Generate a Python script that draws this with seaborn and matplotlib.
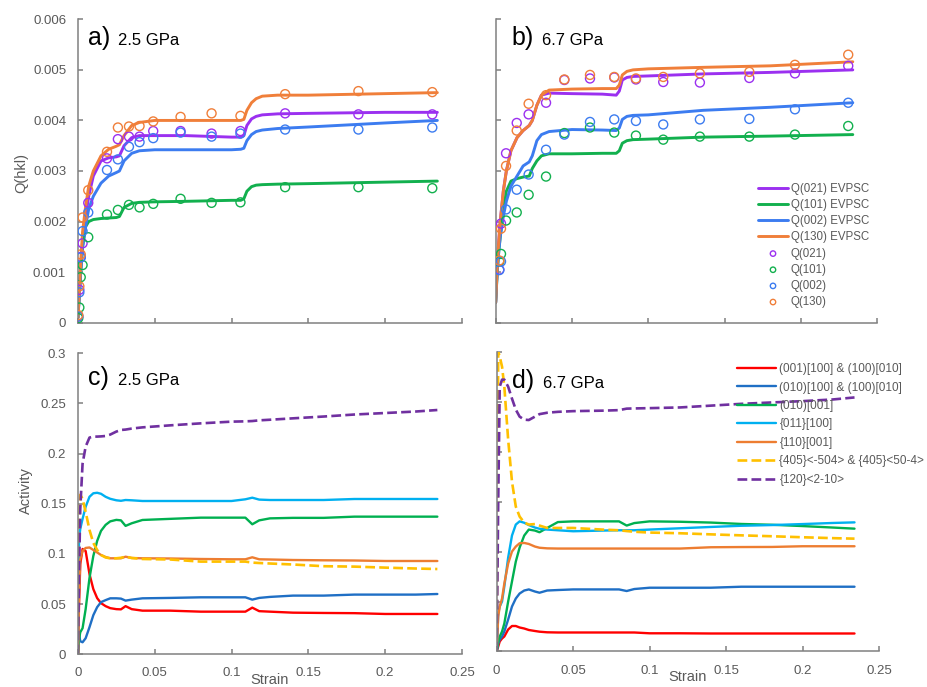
import matplotlib
matplotlib.use("Agg")
import matplotlib.pyplot as plt
import seaborn as sns

# ---------------- data ----------------
# Panel a (2.5 GPa): EVPSC model curves
strain_a = [0, 0.001, 0.002, 0.003, 0.005, 0.007, 0.01, 0.015, 0.02, 0.025, 0.027,
            0.03, 0.035, 0.04, 0.05, 0.07, 0.1, 0.106, 0.108, 0.11, 0.113, 0.116,
            0.12, 0.13, 0.15, 0.2, 0.234]
q021_a = [0.0001, 0.0007, 0.0012, 0.0016, 0.0021, 0.0025, 0.0029, 0.0032, 0.00326,
          0.00328, 0.0033, 0.0035, 0.00366, 0.0037, 0.0037, 0.0037, 0.00367, 0.00367,
          0.0037, 0.0039, 0.00403, 0.00408, 0.00411, 0.00413, 0.00414, 0.00416, 0.00416]
q101_a = [0.0001, 0.0006, 0.0011, 0.0015, 0.0019, 0.002, 0.00204, 0.00206, 0.00207,
          0.00208, 0.0021, 0.00228, 0.00236, 0.00238, 0.00239, 0.0024, 0.00242, 0.00242,
          0.00245, 0.0026, 0.00269, 0.00272, 0.00273, 0.00274, 0.00275, 0.00278, 0.0028]
q002_a = [0.0001, 0.0006, 0.0011, 0.0015, 0.0019, 0.00225, 0.0025, 0.00276, 0.0029,
          0.00297, 0.003, 0.0032, 0.00335, 0.0034, 0.00342, 0.00342, 0.00342, 0.00343,
          0.00345, 0.0036, 0.00372, 0.00378, 0.00381, 0.00384, 0.00387, 0.00395, 0.004]
q130_a = [0.0001, 0.0007, 0.0013, 0.0018, 0.0023, 0.0027, 0.003, 0.0033, 0.00343,
          0.00349, 0.00352, 0.0037, 0.0039, 0.00396, 0.004, 0.004, 0.004, 0.004,
          0.00402, 0.0042, 0.00435, 0.00443, 0.00448, 0.0045, 0.0045, 0.00453, 0.00455]

# Panel a: measured
strain_a_obs = [0.0002, 0.0009, 0.0018, 0.003, 0.0067, 0.0189, 0.026, 0.0332, 0.0401,
                0.049, 0.0668, 0.087, 0.1058, 0.1349, 0.1826, 0.2307]
q021_a_obs = [0.00012, 0.00065, 0.0013, 0.00157, 0.00237, 0.00325, 0.00363, 0.00368,
              0.00368, 0.00379, 0.00379, 0.00374, 0.00379, 0.00414, 0.00412, 0.00412]
q101_a_obs = [0.00009, 0.0003, 0.0009, 0.00114, 0.00169, 0.00214, 0.00223, 0.00233,
              0.00228, 0.00235, 0.00245, 0.00237, 0.00238, 0.00268, 0.00268, 0.00266]
q002_a_obs = [0.00013, 0.0006, 0.00129, 0.00181, 0.00218, 0.00302, 0.00323, 0.00348,
              0.00357, 0.00365, 0.00376, 0.00368, 0.00374, 0.00382, 0.00382, 0.00386]
q130_a_obs = [0.00015, 0.00072, 0.00135, 0.00208, 0.00262, 0.00338, 0.00386, 0.00388,
              0.00389, 0.00398, 0.00407, 0.00414, 0.00409, 0.00452, 0.00458, 0.00456]

# Panel b (6.7 GPa): EVPSC model curves
strain_b = [0, 0.001, 0.002, 0.003, 0.005, 0.007, 0.01, 0.014, 0.018, 0.022, 0.024,
            0.027, 0.03, 0.035, 0.05, 0.07, 0.079, 0.081, 0.083, 0.086, 0.09, 0.1,
            0.136, 0.18, 0.234]
q021_b = [0.0004, 0.0011, 0.0016, 0.002, 0.0026, 0.003, 0.0034, 0.00366, 0.0038,
          0.0039, 0.004, 0.0043, 0.0045, 0.00454, 0.00453, 0.00452, 0.0045, 0.00458,
          0.0048, 0.00485, 0.00487, 0.00488, 0.00492, 0.00495, 0.005]
q101_b = [0.0004, 0.001, 0.0014, 0.0017, 0.0022, 0.0026, 0.0028, 0.00285, 0.00288,
          0.0029, 0.00305, 0.0032, 0.0033, 0.00334, 0.00334, 0.00335, 0.00335, 0.0034,
          0.00355, 0.0036, 0.00362, 0.00363, 0.00367, 0.00369, 0.00372]
q002_b = [0.0004, 0.001, 0.0014, 0.0017, 0.0021, 0.0024, 0.0027, 0.0029, 0.0031,
          0.00318, 0.0033, 0.0036, 0.00372, 0.00378, 0.00382, 0.00381, 0.0038, 0.00385,
          0.00402, 0.00408, 0.0041, 0.00411, 0.0042, 0.00426, 0.00435]
q130_b = [0.0004, 0.0011, 0.0016, 0.002, 0.0026, 0.003, 0.0034, 0.00366, 0.0038,
          0.0039, 0.004, 0.0043, 0.0045, 0.0046, 0.00462, 0.00463, 0.00463, 0.0047,
          0.0049, 0.00497, 0.005, 0.00502, 0.00505, 0.00508, 0.00516]

# Panel b: measured
strain_b_obs = [0.0024, 0.0035, 0.0068, 0.0138, 0.0216, 0.033, 0.045, 0.0618, 0.0777,
                0.0919, 0.1098, 0.1338, 0.1662, 0.1961, 0.231]
q021_b_obs = [0.00105, 0.00196, 0.00335, 0.00395, 0.00412, 0.00435, 0.0048, 0.00483,
              0.00485, 0.00481, 0.00476, 0.00475, 0.00484, 0.00493, 0.00508]
q101_b_obs = [0.00121, 0.00136, 0.00202, 0.00218, 0.00253, 0.00289, 0.00375, 0.00386,
              0.00376, 0.0037, 0.00362, 0.00368, 0.00368, 0.00372, 0.00389]
q002_b_obs = [0.00104, 0.00121, 0.00224, 0.00263, 0.00293, 0.00342, 0.00372, 0.00397,
              0.00402, 0.00399, 0.00392, 0.00402, 0.00403, 0.00422, 0.00435]
q130_b_obs = [0.00123, 0.00186, 0.0031, 0.0038, 0.00433, 0.0045, 0.00481, 0.0049,
              0.00486, 0.00483, 0.00486, 0.00493, 0.00496, 0.0051, 0.0053]

# Panel c (2.5 GPa): slip system activities
strain_c = [0, 0.0007, 0.0015, 0.003, 0.005, 0.0075, 0.01, 0.0125, 0.015, 0.018, 0.021,
            0.025, 0.028, 0.031, 0.035, 0.042, 0.06, 0.08, 0.1, 0.109, 0.1135, 0.118,
            0.125, 0.14, 0.16, 0.18, 0.2, 0.22, 0.234]
act_001_c = [0, 0.05, 0.09, 0.105, 0.103, 0.08, 0.065, 0.056, 0.051, 0.048, 0.046, 0.045,
             0.0448, 0.048, 0.045, 0.0435, 0.0435, 0.0425, 0.0425, 0.0425, 0.0465, 0.043,
             0.0425, 0.0415, 0.0412, 0.041, 0.0402, 0.0402, 0.0402]
act_010_100_c = [0, 0.02, 0.013, 0.012, 0.016, 0.027, 0.039, 0.047, 0.052, 0.054, 0.0558,
                 0.0558, 0.0555, 0.0535, 0.0545, 0.0558, 0.0562, 0.0568, 0.0568, 0.0568,
                 0.0545, 0.0562, 0.0572, 0.0585, 0.0585, 0.0595, 0.0595, 0.0595, 0.0601]
act_010_001_c = [0, 0.015, 0.022, 0.026, 0.045, 0.076, 0.098, 0.113, 0.123, 0.129, 0.1325,
                 0.134, 0.1335, 0.128, 0.1306, 0.1339, 0.135, 0.1362, 0.1362, 0.1362,
                 0.1296, 0.1335, 0.1355, 0.136, 0.136, 0.1372, 0.1372, 0.1372, 0.1372]
act_011_c = [0, 0.115, 0.125, 0.135, 0.147, 0.157, 0.1605, 0.161, 0.16, 0.157, 0.155,
             0.1535, 0.153, 0.1538, 0.1535, 0.1528, 0.1528, 0.1528, 0.1528, 0.1545, 0.1561,
             0.1542, 0.1538, 0.1538, 0.1538, 0.1548, 0.1548, 0.1548, 0.1548]
act_110_c = [0, 0.06, 0.095, 0.103, 0.106, 0.1065, 0.104, 0.1015, 0.099, 0.097, 0.0957,
             0.0957, 0.0957, 0.0973, 0.096, 0.0957, 0.0955, 0.095, 0.0947, 0.0947, 0.0967,
             0.0947, 0.0945, 0.094, 0.0937, 0.0935, 0.093, 0.093, 0.093]
act_405_c = [0, 0.13, 0.159, 0.155, 0.142, 0.124, 0.111, 0.104, 0.099, 0.0965, 0.0957,
             0.0957, 0.0962, 0.0973, 0.096, 0.095, 0.0945, 0.0924, 0.0924, 0.0924, 0.0914,
             0.091, 0.0905, 0.0895, 0.0878, 0.0874, 0.0864, 0.0855, 0.085]
act_120_c = [0, 0.08, 0.145, 0.19, 0.207, 0.216, 0.217, 0.217, 0.2172, 0.2176, 0.219,
             0.222, 0.2236, 0.224, 0.225, 0.2262, 0.2282, 0.2302, 0.2319, 0.2322, 0.2325,
             0.2332, 0.2338, 0.2352, 0.237, 0.239, 0.2405, 0.242, 0.2435]

# Panel d (6.7 GPa): slip system activities
strain_d = [0, 0.001, 0.002, 0.0035, 0.005, 0.0075, 0.01, 0.0125, 0.015, 0.018, 0.021,
            0.025, 0.028, 0.033, 0.04, 0.05, 0.07, 0.08, 0.085, 0.09, 0.1, 0.12, 0.14,
            0.16, 0.18, 0.2, 0.22, 0.234]
act_001_d = [0, 0.005, 0.01, 0.013, 0.015, 0.022, 0.0255, 0.0255, 0.024, 0.023, 0.0215,
             0.0205, 0.0198, 0.0192, 0.019, 0.019, 0.019, 0.019, 0.019, 0.019, 0.0182,
             0.0182, 0.018, 0.018, 0.018, 0.018, 0.018, 0.018]
act_010_100_d = [0, 0.008, 0.012, 0.015, 0.02, 0.032, 0.045, 0.053, 0.058, 0.061, 0.0621,
                 0.06, 0.0588, 0.061, 0.0615, 0.0621, 0.0621, 0.0621, 0.0605, 0.0625,
                 0.0638, 0.0638, 0.0638, 0.0648, 0.0648, 0.0648, 0.0648, 0.0648]
act_010_001_d = [0, 0.01, 0.015, 0.02, 0.028, 0.05, 0.07, 0.09, 0.104, 0.116, 0.122,
                 0.121, 0.1193, 0.1236, 0.1295, 0.1302, 0.1302, 0.1302, 0.126, 0.1285,
                 0.1302, 0.1298, 0.129, 0.1276, 0.1268, 0.1255, 0.124, 0.1229]
act_011_d = [0, 0.038, 0.045, 0.05, 0.065, 0.094, 0.116, 0.127, 0.1302, 0.1288, 0.1265,
             0.124, 0.1228, 0.122, 0.1213, 0.1203, 0.121, 0.1213, 0.1213, 0.1213, 0.122,
             0.1233, 0.1246, 0.1258, 0.1265, 0.1275, 0.1286, 0.1292]
act_110_d = [0, 0.035, 0.045, 0.053, 0.068, 0.088, 0.1, 0.105, 0.1083, 0.1086, 0.1076,
             0.105, 0.1038, 0.1032, 0.103, 0.103, 0.103, 0.103, 0.103, 0.103, 0.103, 0.103,
             0.1043, 0.1045, 0.1046, 0.1053, 0.1053, 0.1053]
act_405_d = [0, 0.3, 0.295, 0.285, 0.265, 0.212, 0.17, 0.145, 0.135, 0.129, 0.127, 0.1275,
             0.126, 0.1236, 0.1236, 0.1236, 0.1219, 0.1213, 0.1205, 0.1198, 0.119, 0.1183,
             0.1172, 0.1162, 0.1153, 0.1143, 0.1134, 0.1129]
act_120_d = [0, 0.15, 0.265, 0.272, 0.272, 0.265, 0.253, 0.242, 0.235, 0.232, 0.2316,
             0.235, 0.2375, 0.2389, 0.2398, 0.2405, 0.241, 0.2415, 0.243, 0.2432, 0.2435,
             0.2442, 0.246, 0.2478, 0.2492, 0.2505, 0.2522, 0.2542]

q_names = ["Q(021)", "Q(101)", "Q(002)", "Q(130)"]
q_colors = ["#9b30f0", "#12b04e", "#3c7cf0", "#f07f3a"]

slip_names = ["(001)[100] & (100)[010]", "(010)[100] & (100)[010]", "(010)[001]",
              "{011}[100]", "{110}[001]", "{405}<-504> & {405}<50-4>", "{120}<2-10>"]
slip_colors = ["#ff0000", "#1f6fc5", "#00b050", "#00b0f0", "#ed7d31", "#ffc000", "#7030a0"]
slip_dashed = [False, False, False, False, False, True, True]

x_ticks = [0, 0.05, 0.1, 0.15, 0.2, 0.25]
x_ticklabels = ["0", "0.05", "0.1", "0.15", "0.2", "0.25"]
q_ticks = [0, 0.001, 0.002, 0.003, 0.004, 0.005, 0.006]
q_ticklabels = ["0", "0.001", "0.002", "0.003", "0.004", "0.005", "0.006"]
act_ticks = [0, 0.05, 0.1, 0.15, 0.2, 0.25, 0.3]
act_ticklabels = ["0", "0.05", "0.1", "0.15", "0.2", "0.25", "0.3"]

# ---------------- style ----------------
sns.set_style("ticks")
plt.rcParams["font.family"] = ["Liberation Sans", "DejaVu Sans"]

GRAY = "#808080"
TXT = "#595959"

fig = plt.figure(figsize=(9.27, 6.87), dpi=100)
ax_a = fig.add_axes([0.0841, 0.5303, 0.4142, 0.4416])
ax_b = fig.add_axes([0.5347, 0.5303, 0.4116, 0.4416])
ax_c = fig.add_axes([0.0841, 0.0476, 0.4142, 0.4381])
ax_d = fig.add_axes([0.5358, 0.0517, 0.4124, 0.4364])


def style_axes(ax, yticks, yticklabels, show_x, show_y):
    for s in ["top", "right"]:
        ax.spines[s].set_visible(False)
    for s in ["left", "bottom"]:
        ax.spines[s].set_color(GRAY)
        ax.spines[s].set_linewidth(1.1)
    ax.set_xlim(0, 0.25)
    ax.set_ylim(yticks[0], yticks[-1])
    ax.set_xticks(x_ticks)
    ax.set_xticklabels(x_ticklabels)
    ax.set_yticks(yticks)
    ax.set_yticklabels(yticklabels)
    ax.tick_params(direction="in", length=3.5, width=1.1, color=GRAY,
                   labelcolor=TXT, labelsize=9.5)
    ax.tick_params(axis="x", pad=9.5, labelbottom=show_x)
    ax.tick_params(axis="y", pad=8.5, labelleft=show_y)
    ax.grid(False)


# ---------------- top panels ----------------
top_sets = [
    (ax_a, strain_a, [q021_a, q101_a, q002_a, q130_a],
     strain_a_obs, [q021_a_obs, q101_a_obs, q002_a_obs, q130_a_obs]),
    (ax_b, strain_b, [q021_b, q101_b, q002_b, q130_b],
     strain_b_obs, [q021_b_obs, q101_b_obs, q002_b_obs, q130_b_obs]),
]
for ax, sx, model, ox, obs in top_sets:
    for name, col, ys in zip(q_names, q_colors, model):
        sns.lineplot(x=sx, y=ys, ax=ax, color=col, lw=2.1, label=name + " EVPSC",
                     estimator=None, legend=False)
    for name, col, ys in zip(q_names, q_colors, obs):
        sns.scatterplot(x=ox, y=ys, ax=ax, s=42, facecolors="none", edgecolor=col,
                        linewidth=1.0, label=name, legend=False, zorder=3)

style_axes(ax_a, q_ticks, q_ticklabels, False, True)
style_axes(ax_b, q_ticks, q_ticklabels, False, False)

# ---------------- bottom panels ----------------
bot_sets = [
    (ax_c, strain_c, [act_001_c, act_010_100_c, act_010_001_c, act_011_c, act_110_c,
                      act_405_c, act_120_c]),
    (ax_d, strain_d, [act_001_d, act_010_100_d, act_010_001_d, act_011_d, act_110_d,
                      act_405_d, act_120_d]),
]
for ax, sx, series in bot_sets:
    for name, col, dsh, ys in zip(slip_names, slip_colors, slip_dashed, series):
        sns.lineplot(x=sx, y=ys, ax=ax, color=col, lw=1.9 if dsh else 1.7,
                     linestyle="--" if dsh else "-", label=name,
                     estimator=None, legend=False)

style_axes(ax_c, act_ticks, act_ticklabels, True, True)
style_axes(ax_d, act_ticks, act_ticklabels, True, False)

# ---------------- labels ----------------
ax_a.set_ylabel("Q(hkl)", fontsize=10.5, color=TXT)
ax_a.yaxis.set_label_coords(-0.13, 0.495)
ax_c.set_ylabel("Activity", fontsize=10.5, color=TXT)
ax_c.yaxis.set_label_coords(-0.117, 0.543)
for ax in (ax_c, ax_d):
    ax.set_xlabel("Strain", fontsize=10.5, color=TXT, va="top")
    ax.xaxis.set_label_coords(0.5, -0.062)

panel_text = [(ax_a, "a)", "2.5 GPa", 0.026, 0.104, 0.915),
              (ax_b, "b)", "6.7 GPa", 0.042, 0.1205, 0.915),
              (ax_c, "c)", "2.5 GPa", 0.026, 0.104, 0.895),
              (ax_d, "d)", "6.7 GPa", 0.039, 0.12, 0.878)]
for ax, lab, pres, x1, x2, yb in panel_text:
    ax.text(x1, yb, lab, transform=ax.transAxes, fontsize=18, color="black",
            va="baseline", ha="left")
    ax.text(x2, yb, pres, transform=ax.transAxes, fontsize=12, color="black",
            va="baseline", ha="left")

# ---------------- legends ----------------
h, l = ax_b.get_legend_handles_labels()
ax_b.legend(h, l, loc="upper left", bbox_to_anchor=(0.8177, 0.7336),
            bbox_transform=fig.transFigure, frameon=False, fontsize=8.3,
            handlelength=2.6, handletextpad=0.25, labelspacing=0.36, borderpad=0,
            borderaxespad=0, markerscale=0.6, labelcolor=TXT)

h, l = ax_d.get_legend_handles_labels()
ax_d.legend(h, l, loc="upper left", bbox_to_anchor=(0.795, 0.4716),
            bbox_transform=fig.transFigure, frameon=False, fontsize=8.5,
            handlelength=3.3, handletextpad=0.3, labelspacing=0.55, borderpad=0,
            borderaxespad=0, labelcolor=TXT)

fig.savefig("out.png", dpi=100)
